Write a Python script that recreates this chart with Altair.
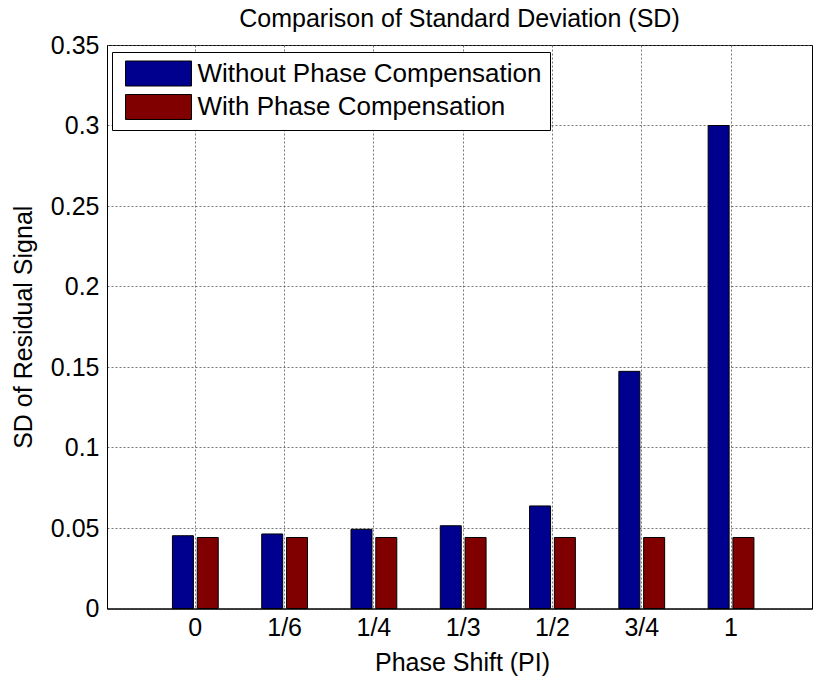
import altair as alt
import pandas as pd

phases = ["0", "1/6", "1/4", "1/3", "1/2", "3/4", "1"]
series = ["Without Phase Compensation", "With Phase Compensation"]
sd_without = [0.0452, 0.0463, 0.0492, 0.0514, 0.0637, 0.1473, 0.3000]
sd_with = [0.0441, 0.0441, 0.0441, 0.0441, 0.0441, 0.0441, 0.0441]
y_ticks = [0, 0.05, 0.1, 0.15, 0.2, 0.25, 0.3, 0.35]
colors = ["#00008F", "#800000"]

rows = []
for p, a, b in zip(phases, sd_without, sd_with):
    rows.append({"phase": p, "series": series[0], "sd": a})
    rows.append({"phase": p, "series": series[1], "sd": b})
df = pd.DataFrame(rows)

FONT = "Liberation Sans"
FS = 25

chart = alt.Chart(df).mark_bar(stroke="black", strokeWidth=1).encode(
    x=alt.X(
        "phase:N",
        sort=phases,
        scale=alt.Scale(paddingInner=0, paddingOuter=0.448, align=0.546),
        axis=alt.Axis(
            title="Phase Shift (PI)",
            labelAngle=0,
            grid=True,
            bandPosition=0.5,
            ticks=False,
            labelPadding=7,
            titleX=355,
            titleY=54,
            titleBaseline="middle",
            titleAlign="center",
        ),
    ),
    xOffset=alt.XOffset(
        "series:N",
        sort=series,
        scale=alt.Scale(paddingInner=0.153, paddingOuter=0.877),
    ),
    y=alt.Y(
        "sd:Q",
        scale=alt.Scale(domain=[0, 0.35], nice=False, zero=True),
        axis=alt.Axis(
            title="SD of Residual Signal",
            values=y_ticks,
            format=".2~f",
            grid=True,
            ticks=False,
            labelPadding=8,
            titleX=-84,
            titleY=281.75,
            titleBaseline="middle",
            titleAlign="center",
        ),
    ),
    color=alt.Color(
        "series:N",
        sort=series,
        scale=alt.Scale(domain=series, range=colors),
        legend=alt.Legend(
            title=None,
            orient="none",
            legendX=5,
            legendY=7,
            symbolType="M-0.64,-1L4.64,-1L4.64,1L-0.64,1Z",
            symbolSize=625,
            symbolStrokeColor="black",
            symbolStrokeWidth=1,
            symbolOpacity=1,
            labelFont=FONT,
            labelFontSize=26,
            labelColor="black",
            labelOffset=51,
            rowPadding=3.5,
            padding=8.5,
            strokeColor="black",
            fillColor="white",
            cornerRadius=0,
            labelLimit=0,
        ),
    ),
).properties(
    width=705,
    height=563.5,
    background="white",
    title=alt.TitleParams(
        "Comparison of Standard Deviation (SD)",
        font=FONT,
        fontSize=FS,
        fontWeight="normal",
        color="black",
        anchor="middle",
        frame="group",
        offset=1,
    ),
    autosize=alt.AutoSizeParams(type="none"),
    padding={"left": 107, "top": 45, "right": 3, "bottom": 71},
).configure_axis(
    labelFont=FONT,
    labelFontSize=FS,
    labelColor="black",
    titleFont=FONT,
    titleFontSize=FS,
    titleFontWeight="normal",
    titleColor="black",
    domainColor="black",
    domainWidth=1,
    gridColor="#555555",
    gridDash=[2, 2],
    gridWidth=1,
    gridOpacity=0.8,
).configure_view(
    stroke="black",
    strokeWidth=1,
)

chart.save("out.html", embed_options={"renderer": "svg", "actions": False})
